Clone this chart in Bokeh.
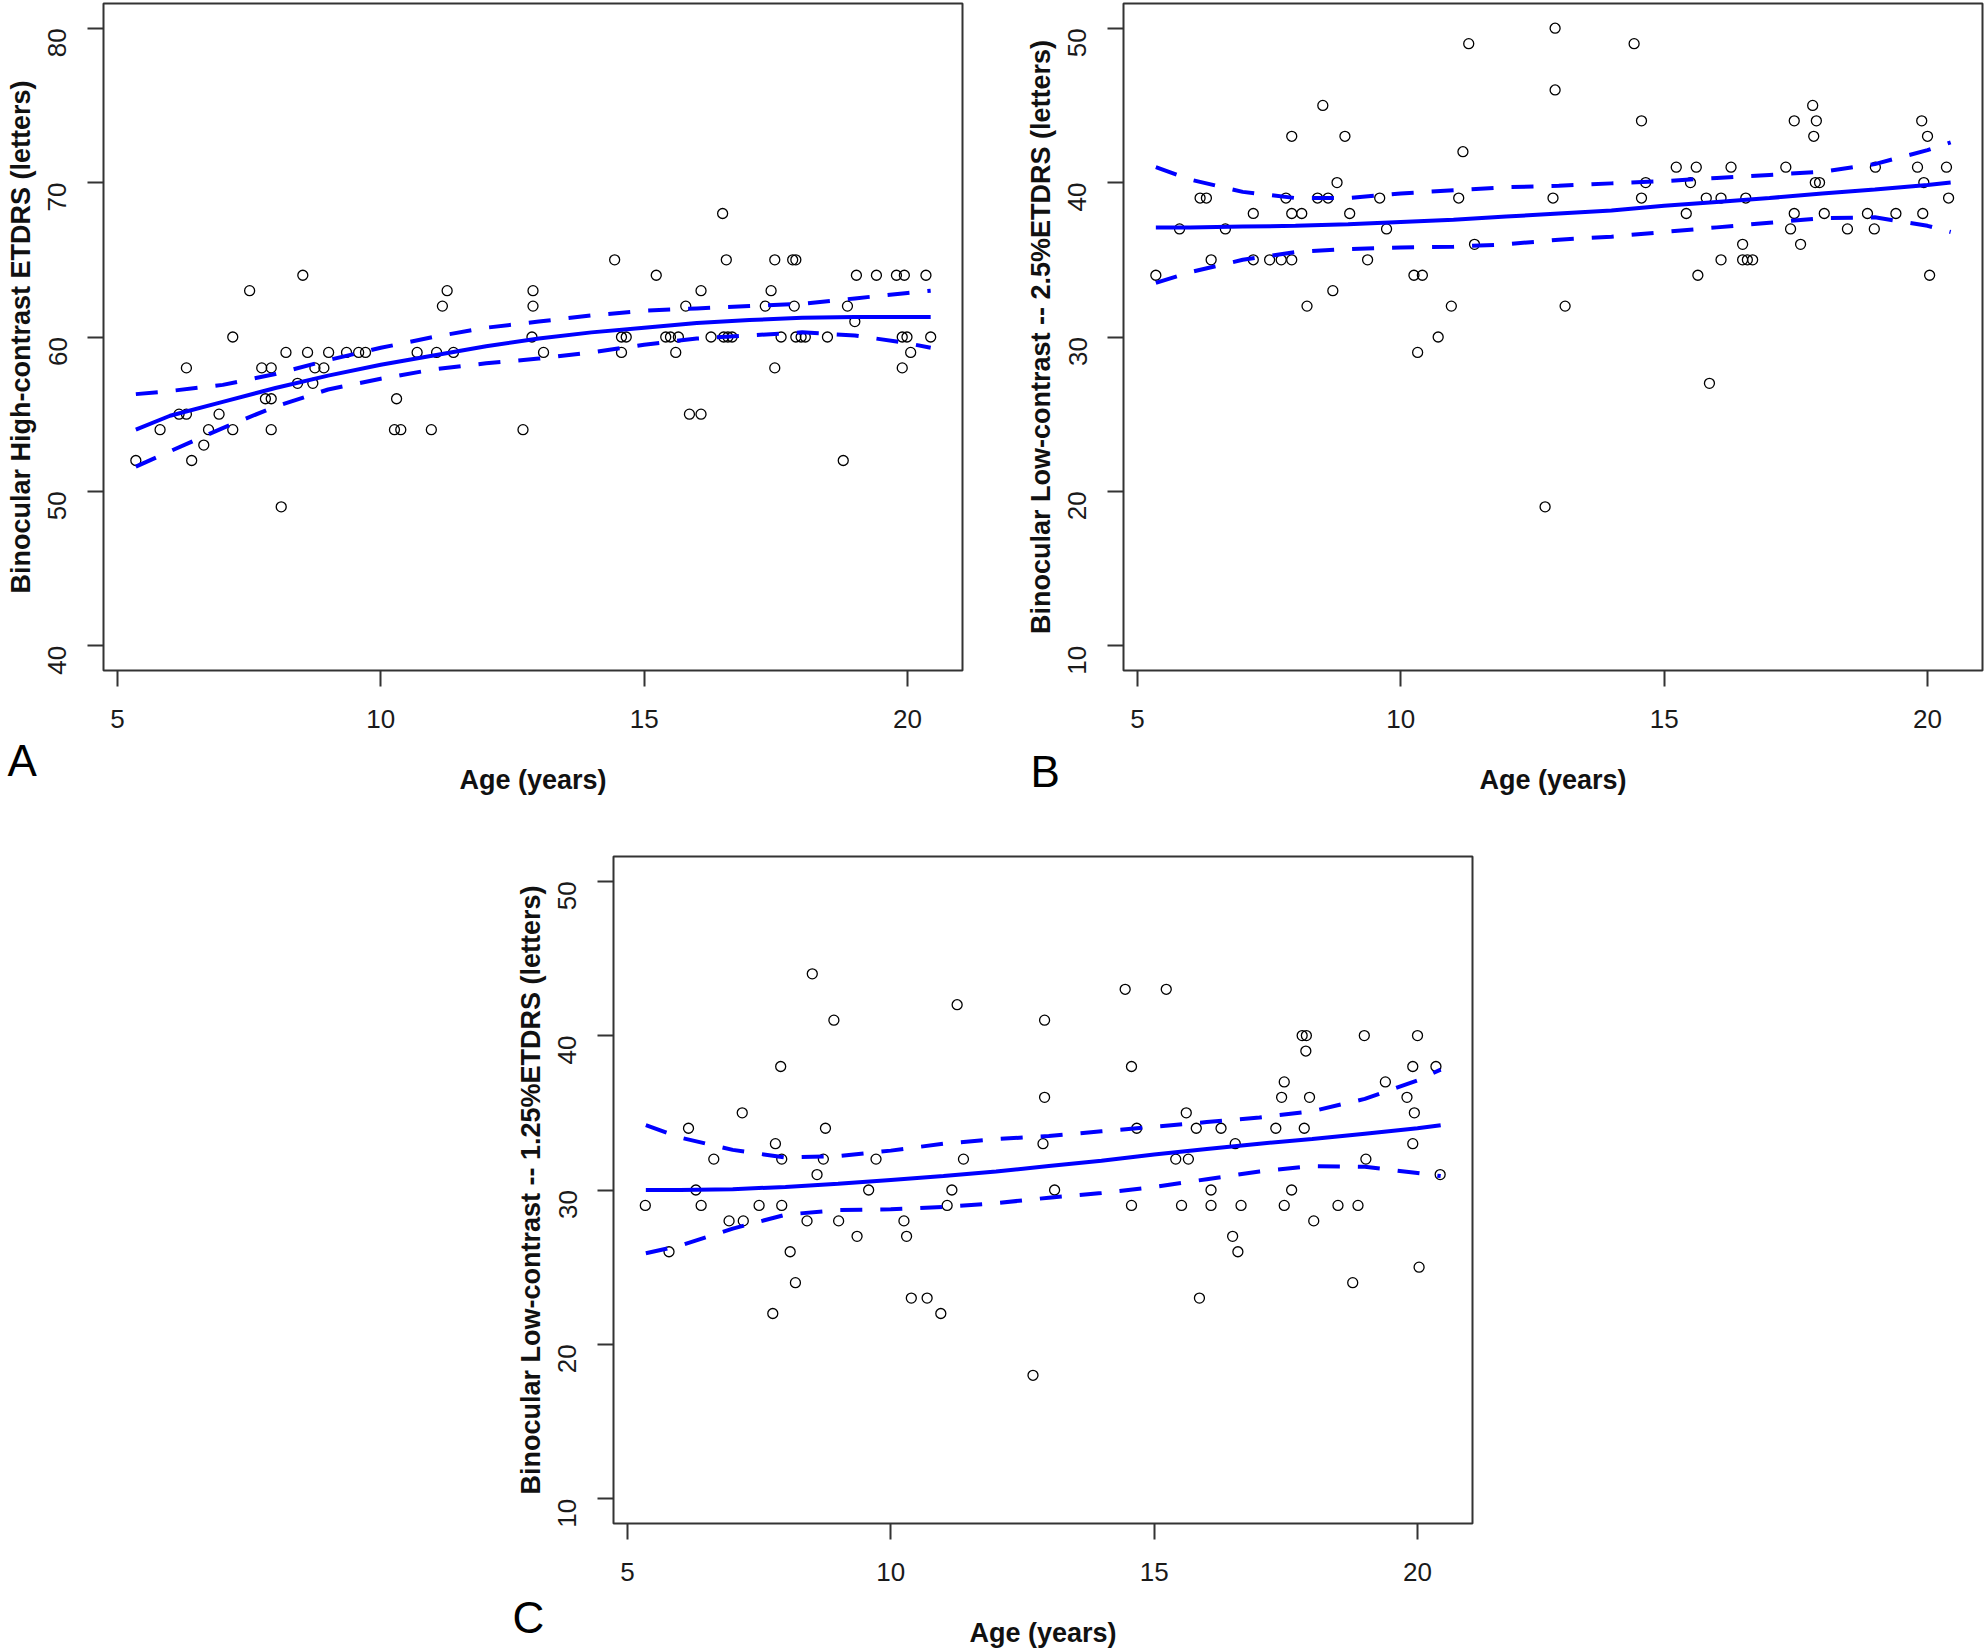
import math
from bokeh.plotting import figure
from bokeh.models import FixedTicker, Range1d, Title, Spacer
from bokeh.layouts import row, column
from bokeh.embed import file_html
from bokeh.resources import INLINE

FONT = "Liberation Sans"
BLUE = "#0000FF"
BOX = "#333333"

# ---------------- data ----------------
x_ticks = [5, 10, 15, 20]
yticks_A = [40, 50, 60, 70, 80]
yticks_BC = [10, 20, 30, 40, 50]

ylabel_A = "Binocular High-contrast ETDRS (letters)"
ylabel_B = "Binocular Low-contrast -- 2.5%ETDRS (letters)"
ylabel_C = "Binocular Low-contrast -- 1.25%ETDRS (letters)"
xlabel = "Age (years)"

# Panel A: high contrast
A_age = [5.35, 5.81, 6.17, 6.31, 6.31, 6.41, 6.64, 6.73, 6.93, 7.19,
         7.19, 7.51, 7.74, 7.92, 7.81, 7.92, 7.92, 8.11, 8.20, 8.52,
         8.42, 8.61, 8.71, 8.75, 8.92, 9.01, 9.35, 9.58, 9.71, 10.26,
         10.38, 10.30, 10.69, 10.96, 11.06, 11.17, 11.26, 11.38, 12.70, 12.89,
         12.89, 12.87, 13.09,
         14.44, 14.57, 14.66, 14.57, 15.23, 15.41, 15.50, 15.65, 15.60, 15.79,
         15.86, 16.08, 16.08, 16.27, 16.49, 16.56, 16.51, 16.59, 16.67, 17.30,
         17.41, 17.48, 17.48, 17.60, 17.82, 17.88, 17.85, 17.88, 17.98, 18.06,
         18.48, 18.78, 18.86, 19.00, 19.03, 19.41, 19.79, 19.94, 19.90, 19.99,
         19.90, 20.06, 20.35, 20.44]
A_val = [52, 54, 55, 58, 55, 52, 53, 54, 55, 60,
         54, 63, 58, 58, 56, 56, 54, 49, 59, 64,
         57, 59, 57, 58, 58, 59, 59, 59, 59, 54,
         54, 56, 59, 54, 59, 62, 63, 59, 54, 63,
         62, 60, 59,
         65, 60, 60, 59, 64, 60, 60, 60, 59, 62,
         55, 55, 63, 60, 68, 65, 60, 60, 60, 62,
         63, 65, 58, 60, 65, 65, 62, 60, 60, 60,
         60, 52, 62, 61, 64, 64, 64, 64, 60, 60,
         58, 59, 64, 60]

# Panel B: 2.5% low contrast
B_age = [5.35, 5.80, 6.19, 6.31, 6.40, 6.67, 7.20, 7.20, 7.51, 7.73,
         7.82, 7.93, 7.93, 7.93, 8.12, 8.22, 8.52, 8.42, 8.62, 8.71,
         8.79, 8.94, 9.03, 9.37, 9.60, 9.73, 10.25, 10.41, 10.32, 10.71,
         10.96, 11.10, 11.18, 11.29, 11.40,
         12.93, 12.93, 12.89, 12.74, 13.12, 14.43, 14.57, 14.65, 14.57, 15.23,
         15.61, 15.50, 15.42, 15.64, 15.80, 15.86, 16.08, 16.08, 16.27, 16.49,
         16.55, 16.49, 16.58, 16.68, 17.31, 17.47, 17.47, 17.40, 17.59, 17.82,
         17.89, 17.84, 17.87, 17.95, 18.04, 18.48, 18.86, 19.01, 18.99, 19.40,
         19.89, 20.00, 19.81, 19.93, 19.91, 20.04, 20.36, 20.40]
B_val = [34, 37, 39, 39, 35, 37, 38, 35, 35, 35,
         39, 43, 38, 35, 38, 32, 45, 39, 39, 33,
         40, 43, 38, 35, 39, 37, 34, 34, 29, 30,
         32, 39, 42, 49, 36,
         50, 46, 39, 19, 32, 49, 44, 40, 39, 41,
         41, 40, 38, 34, 39, 27, 39, 35, 41, 36,
         39, 35, 35, 35, 41, 44, 38, 37, 36, 45,
         44, 43, 40, 40, 38, 37, 38, 41, 37, 38,
         44, 43, 41, 40, 38, 34, 41, 39]

# Panel C: 1.25% low contrast
C_age = [5.34, 5.79, 6.16, 6.30, 6.40, 6.64, 6.93, 7.18, 7.20, 7.50,
         7.76, 7.81, 7.91, 7.93, 7.93, 8.09, 8.19, 8.41, 8.51, 8.60,
         8.72, 8.76, 8.92, 9.01, 9.36, 9.58, 9.72, 10.25, 10.30, 10.39,
         10.69, 10.95, 11.07, 11.16, 11.26, 11.38, 12.70,
         12.92, 12.92, 12.89, 13.11, 14.45, 14.57, 14.67, 14.57, 15.23, 15.41,
         15.61, 15.65, 15.80, 15.52, 15.86, 16.08, 16.08, 16.27, 16.49, 16.54,
         16.59, 16.65, 17.31, 17.42, 17.47, 17.47, 17.61, 17.81, 17.89, 17.88,
         17.85, 17.95, 18.03, 18.49, 18.77, 18.87, 18.99, 19.02, 19.39, 19.80,
         19.91, 19.94, 19.91, 20.00, 20.03, 20.35, 20.43]
C_val = [29, 26, 34, 30, 29, 32, 28, 35, 28, 29,
         22, 33, 38, 32, 29, 26, 24, 28, 44, 31,
         32, 34, 41, 28, 27, 30, 32, 28, 27, 23,
         23, 22, 29, 30, 42, 32, 18,
         41, 36, 33, 30, 43, 38, 34, 29, 43, 32,
         35, 32, 34, 29, 23, 30, 29, 34, 27, 33,
         26, 29, 34, 36, 37, 29, 30, 40, 40, 39,
         34, 36, 28, 29, 24, 29, 40, 32, 37, 36,
         38, 35, 33, 40, 25, 38, 31]

# fitted curves and 95% confidence bands
fit_age = [5.35, 6, 7, 8, 9, 10, 11, 12, 13, 14, 15, 16, 17, 18, 19, 20, 20.44]
A_fit = [54.0, 54.9, 55.8, 56.7, 57.5, 58.2, 58.8, 59.4, 59.9, 60.3, 60.6, 60.9, 61.1, 61.25, 61.3, 61.3, 61.3]
A_up = [56.3, 56.5, 56.9, 57.6, 58.5, 59.3, 60.0, 60.6, 61.0, 61.4, 61.7, 61.85, 62.0, 62.15, 62.5, 62.85, 63.0]
A_lo = [51.6, 52.6, 54.1, 55.5, 56.6, 57.3, 57.9, 58.3, 58.6, 59.0, 59.5, 59.9, 60.1, 60.3, 60.1, 59.6, 59.3]
B_fit = [37.1, 37.1, 37.15, 37.2, 37.3, 37.45, 37.6, 37.8, 38.0, 38.2, 38.5, 38.75, 39.0, 39.3, 39.55, 39.85, 40.0]
B_up = [41.0, 40.2, 39.4, 39.0, 39.0, 39.3, 39.5, 39.7, 39.8, 39.95, 40.1, 40.3, 40.5, 40.7, 41.2, 42.1, 42.6]
B_lo = [33.5, 34.2, 35.0, 35.5, 35.7, 35.8, 35.85, 36.0, 36.3, 36.5, 36.8, 37.1, 37.4, 37.7, 37.75, 37.2, 36.8]
C_fit = [30.0, 30.0, 30.05, 30.2, 30.4, 30.65, 30.9, 31.2, 31.55, 31.9, 32.3, 32.65, 33.0, 33.3, 33.65, 34.0, 34.2]
C_up = [34.2, 33.4, 32.6, 32.1, 32.2, 32.55, 33.0, 33.3, 33.5, 33.8, 34.1, 34.4, 34.7, 35.1, 35.9, 37.1, 37.8]
C_lo = [25.9, 26.4, 27.5, 28.4, 28.7, 28.75, 28.9, 29.15, 29.5, 29.8, 30.2, 30.7, 31.2, 31.55, 31.5, 31.1, 30.9]


def make_panel(ages, vals, fit, up, lo, yticks, ylabel, letter, xr, yr,
               fw, fh, mb_left, mb_right, mb_top, mb_bottom, letter_offset, letter_standoff):
    p = figure(frame_width=fw, frame_height=fh,
               x_range=Range1d(*xr), y_range=Range1d(*yr),
               output_backend="svg", toolbar_location=None,
               min_border_left=mb_left, min_border_right=mb_right,
               min_border_top=mb_top, min_border_bottom=mb_bottom,
               background_fill_color="white", border_fill_color="white")
    p.grid.visible = False
    p.outline_line_color = BOX
    p.outline_line_width = 2
    p.outline_line_alpha = 1.0

    p.xaxis.ticker = FixedTicker(ticks=x_ticks)
    p.yaxis.ticker = FixedTicker(ticks=yticks)
    p.xaxis.axis_label = xlabel
    p.yaxis.axis_label = ylabel
    for ax in (p.xaxis[0], p.yaxis[0]):
        ax.axis_line_color = None
        ax.major_tick_line_color = BOX
        ax.major_tick_line_width = 2
        ax.major_tick_out = 16
        ax.major_tick_in = 0
        ax.minor_tick_line_color = None
        ax.major_label_text_font = FONT
        ax.major_label_text_font_size = "26px"
        ax.major_label_text_color = "#1a1a1a"
        ax.axis_label_text_font = FONT
        ax.axis_label_text_font_size = "27px"
        ax.axis_label_text_font_style = "bold"
        ax.axis_label_text_color = "#111111"
    p.xaxis.major_label_standoff = 23
    p.xaxis.axis_label_standoff = 34
    p.yaxis.major_label_standoff = 30
    p.yaxis.axis_label_standoff = 1
    p.yaxis.major_label_orientation = math.pi / 2

    p.scatter(ages, vals, marker="circle", size=10, fill_color=None,
              line_color="black", line_width=1.3)
    p.line(fit_age, fit, line_color=BLUE, line_width=4)
    p.line(fit_age, up, line_color=BLUE, line_width=4, line_dash="22 18")
    p.line(fit_age, lo, line_color=BLUE, line_width=4, line_dash="22 18")

    # panel letter (A / B / C), placed in the bottom margin left of the frame
    p.add_layout(Title(text=letter, align="left", vertical_align="top",
                       offset=letter_offset, standoff=letter_standoff,
                       text_font=FONT, text_font_size="44px",
                       text_font_style="normal", text_color="black"), "below")
    return p


XR = (4.736, 21.044)
pA = make_panel(A_age, A_val, A_fit, A_up, A_lo, yticks_A, ylabel_A, "A",
                XR, (38.4, 81.6), 859, 667, 103, 38, 3, 142, -96, -124)
pB = make_panel(B_age, B_val, B_fit, B_up, B_lo, yticks_BC, ylabel_B, "B",
                XR, (8.4, 51.6), 859, 667, 123, 3, 3, 142, -93, -102)
pC = make_panel(C_age, C_val, C_fit, C_up, C_lo, yticks_BC, ylabel_C, "C",
                XR, (8.4, 51.6), 859, 667, 113, 10, 44, 128, -101, -116)

layout = column(row(pA, pB), row(Spacer(width=500, height=10), pC))

with open("out.html", "w") as f:
    f.write(file_html(layout, INLINE, "Binocular ETDRS vs age"))
